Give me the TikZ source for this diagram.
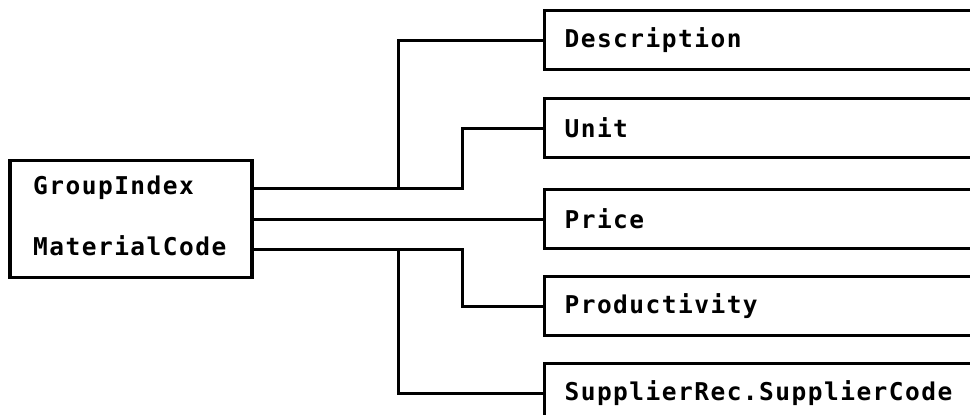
\documentclass[tikz,border=0pt]{standalone}
\usepackage{fontspec}
\usepackage{tikz}
\usetikzlibrary{calc}
\newfontfamily\pixfont[LetterSpace=6]{DejaVu Sans Mono}
\tikzstyle{tsField} = [ 
    text=black, 
    font=\pixfont\bfseries\fontsize{24.5}{28}\selectfont
]
\tikzstyle{tsBox} = [ 
    rectangle,
    draw=black,
    line width=3.2pt]
\tikzstyle{tsRecord} = [ 
    tsBox,
    tsField,
    anchor=west,
    minimum height=59pt,
    text width=420pt,
    inner xsep=20pt,
    align=left]
\tikzstyle{tsLink} = [ 
    draw=black,
    line width=3pt]

\begin{document}
\begin{tikzpicture}[x=1pt, y=-1pt]
        
        \clip (0,0) rectangle (970,415);
        \fill[white] (0,0) rectangle (970,415);
        
        % key record
        \node[tsBox, minimum width=242pt, minimum height=117pt] (key) at (131,219) { };
        \node[tsField, anchor=west, inner sep=0pt] (grp) at (33,188) {GroupIndex};
        \node[tsField, anchor=west, inner sep=0pt] (mat) at (33,246) {MaterialCode};
        
        % field records
        \node[tsRecord] (desc) at (543,40) {Description};
        \node[tsRecord] (unit) at (543,128) {Unit};
        \node[tsRecord] (price) at (543,219) {Price};
        \node[tsRecord] (prod) at (543,306) {Productivity};
        \node[tsRecord] (supp) at (543,393) {SupplierRec.SupplierCode};
        
        \coordinate (upA) at (398,188);
        \coordinate (upB) at (462,188);
        \coordinate (dnA) at (398,249);
        \coordinate (dnB) at (462,249);
        
        \draw[tsLink] (key.east |- upA) -- (upB) |- (unit.west);
        \draw[tsLink] (upA) |- (desc.west);
        \draw[tsLink] (key.east) -- (price.west);
        \draw[tsLink] (key.east |- dnA) -- (dnB) |- (prod.west);
        \draw[tsLink] (dnA) |- (supp.west);
        
\end{tikzpicture}
\end{document}
